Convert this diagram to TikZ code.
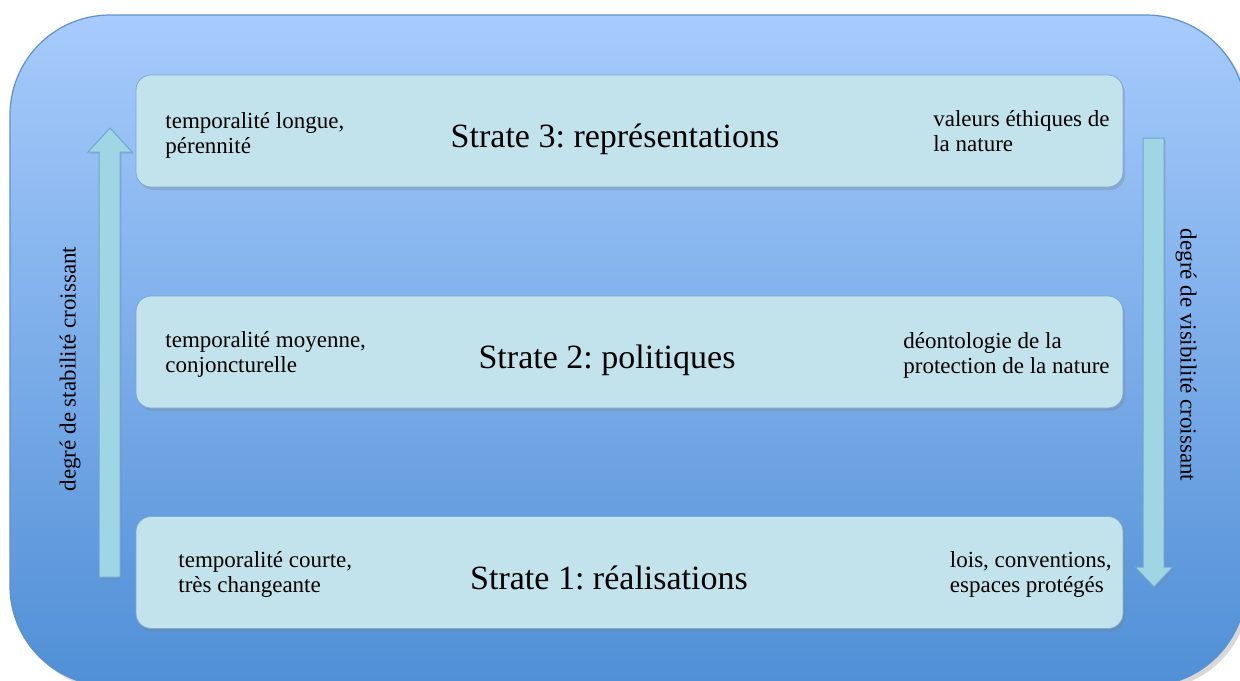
\documentclass[tikz,border=0pt]{standalone}
\usepackage{fontspec}
\setmainfont{Liberation Serif}
\frenchspacing
\usetikzlibrary{positioning,shadows}
\definecolor{fondhaut}{RGB}{167,203,252}
\definecolor{fondbas}{RGB}{80,143,214}
\definecolor{bordfond}{RGB}{95,145,205}
\definecolor{fondstrate}{RGB}{195,227,236}
\definecolor{bordstrate}{RGB}{120,170,210}
\definecolor{fondfleche}{RGB}{160,213,227}
\definecolor{bordfleche}{RGB}{110,165,210}

\begin{document}
\begin{tikzpicture}[x = 0.5pt, y = -0.5pt,
	strate/.style = {draw = bordstrate, fill = fondstrate, rounded corners = 7.5pt, minimum width = 493.5pt, minimum height = 56pt, drop shadow = {shadow xshift = 1pt, shadow yshift = -1.5pt, opacity = 0.3}},
	titre/.style = {anchor = base, inner sep = 0pt, font = \fontsize{17}{20}\selectfont},
	cote/.style = {align = left, inner sep = 0pt, font = \fontsize{11.5}{12.5}\selectfont},
	axe/.style = {inner sep = 0pt, font = \fontsize{11.5}{13}\selectfont},
	fleche/.style = {draw = bordfleche, fill = fondfleche, line width = 0.5pt, drop shadow = {shadow xshift = 0.8pt, shadow yshift = -1pt, opacity = 0.25}}]
	\useasboundingbox (0,0) rectangle (1240,680);
	\fill[white] (0,0) rectangle (1240,680);

	% fond
	\draw[draw = bordfond, line width = 0.6pt, top color = fondhaut, bottom color = fondbas, rounded corners = 50pt, drop shadow = {shadow xshift = 2pt, shadow yshift = -2pt, opacity = 0.3}] (10,15) rectangle (1246,686);

	% strates
	\node[strate](s3) at (629.5,131){};
	\node[strate](s2) at (629.5,352){};
	\node[strate](s1) at (629.5,572.5){};

	\node[titre](t3) at (615,147){Strate 3: représentations};
	\node[titre](t2) at (607,368){Strate 2: politiques};
	\node[titre](t1) at (609,589){Strate 1: réalisations};

	\node[cote, anchor = west](g3) at (165,135){temporalité longue,\\pérennité};
	\node[cote, anchor = west](g2) at (165,354){temporalité moyenne,\\conjoncturelle};
	\node[cote, anchor = west](g1) at (178,574){temporalité courte,\\très changeante};

	\node[cote, anchor = east](d3) at (1110,131.5){valeurs éthiques de\\la nature};
	\node[cote, anchor = east](d2) at (1110,355){déontologie de la\\protection de la nature};
	\node[cote, anchor = east](d1) at (1112,574){lois, conventions,\\espaces protégés};

	% fleches
	\draw[fleche] (99,577) -- (99,152) -- (88,152) -- (110,128) -- (132,152) -- (120,152) -- (120,577) -- cycle;
	\draw[fleche] (1143,138) -- (1143,567) -- (1135,567) -- (1154,587) -- (1173,567) -- (1164,567) -- (1164,138) -- cycle;

	\node[axe, rotate = 90](stab) at (70,369){degré de stabilité croissant};
	\node[axe, rotate = -90](visi) at (1186,355){degré de visibilité croissant};

\end{tikzpicture}
\end{document}
